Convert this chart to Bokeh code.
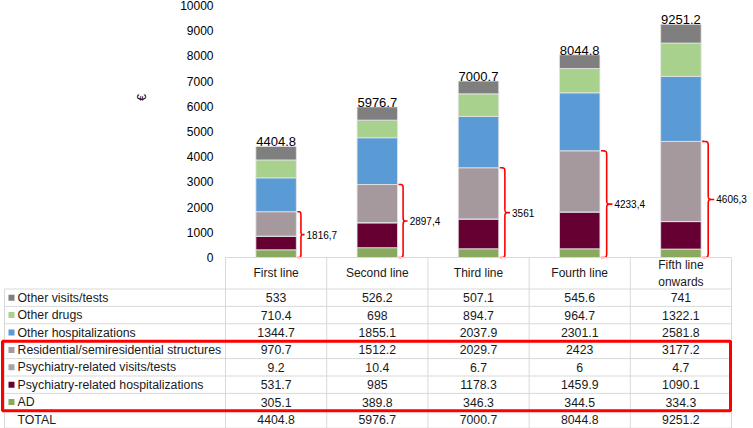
import numpy as np
from bokeh.plotting import figure
from bokeh.models import Range1d, LinearAxis, FixedTicker, ColumnDataSource, Grid
from bokeh.core.properties import value
from bokeh.embed import file_html
from bokeh.resources import INLINE

# ---------------- data ----------------
categories = ["First line", "Second line", "Third line", "Fourth line", "Fifth line\nonwards"]
ad = [305.1, 389.8, 346.3, 344.5, 334.3]
psych_hosp = [531.7, 985, 1178.3, 1459.9, 1090.1]
psych_visits = [9.2, 10.4, 6.7, 6, 4.7]
residential = [970.7, 1512.2, 2029.7, 2423, 3177.2]
other_hosp = [1344.7, 1855.1, 2037.9, 2301.1, 2581.8]
other_drugs = [710.4, 698, 894.7, 964.7, 1322.1]
other_visits = [533, 526.2, 507.1, 545.6, 741]
y_ticks = [0, 1000, 2000, 3000, 4000, 5000, 6000, 7000, 8000, 9000, 10000]

# stacking order bottom -> top
stack_keys = ["ad", "psych_hosp", "psych_visits", "residential", "other_hosp", "other_drugs", "other_visits"]
stack_names = ["AD", "Psychiatry-related hospitalizations", "Psychiatry-related visits/tests",
               "Residential/semiresidential structures", "Other hospitalizations", "Other drugs",
               "Other visits/tests"]
stack_colors = ["#88a95e", "#660033", "#a5a5a5", "#a6999d", "#5b9bd5", "#a9d18e", "#7f7f7f"]
stack_values = [ad, psych_hosp, psych_visits, residential, other_hosp, other_drugs, other_visits]

FONT = value("Liberation Sans")

# ---------------- geometry ----------------
W, H = 753, 428
PX = 101.2                 # px per category column
LEFT_PX = 225              # px where x = -0.5
x_start = -0.5 - LEFT_PX / PX
x_end = x_start + W / PX
PY = 252 / 10000           # px per euro
ZERO_PX = 257              # px (from top) of y = 0
y_top = ZERO_PX / PY
y_bot = -(H - ZERO_PX) / PY


def dx(px):
    return px / PX


def dy(px):
    return px / PY


HEADER = dy(31.5)
ROW = dy(17.4)

p = figure(width=W, height=H, x_range=Range1d(x_start, x_end), y_range=Range1d(y_bot, y_top),
           x_axis_location=None, y_axis_location=None, output_backend="svg",
           toolbar_location=None, min_border=0)
p.outline_line_color = None
p.background_fill_color = "white"
p.center = [r for r in p.center if not isinstance(r, Grid)]

# y axis placed at the left edge of the plotting area
yaxis = LinearAxis(ticker=FixedTicker(ticks=y_ticks), fixed_location=-0.5,
                   axis_line_color=None, major_tick_line_color=None, minor_tick_line_color=None,
                   major_tick_out=0, major_tick_in=0,
                   major_label_standoff=12, major_label_text_font="Liberation Sans",
                   major_label_text_font_size="12px", major_label_text_color="#000000")
p.add_layout(yaxis, "left")

# euro label
p.text(x=[x_start + dx(141)], y=[6350], text=["€"], angle=np.pi / 2, text_align="center",
       text_baseline="middle", text_font=FONT, text_font_size="12px", text_color="#000000")

# ---------------- bars ----------------
xs = list(range(len(categories)))
src = ColumnDataSource(dict(x=xs, **{k: v for k, v in zip(stack_keys, stack_values)}))
p.vbar_stack(stack_keys, x="x", width=0.4, source=src, fill_color=stack_colors,
             line_color="#e6e6e6", line_width=0.8)

totals = np.round(np.sum(np.array(stack_values, dtype=float), axis=0), 1)
p.text(x=xs, y=list(totals), text=[f"{t:g}" for t in totals], text_align="center",
       text_baseline="bottom", text_font=FONT, text_font_size="13px",
       text_color="#000000")

# ---------------- braces ----------------


def cubic(p0, p1, p2, p3, n=14):
    t = np.linspace(0, 1, n)[:, None]
    pts = ((1 - t) ** 3) * p0 + 3 * ((1 - t) ** 2) * t * p1 + 3 * (1 - t) * t ** 2 * p2 + t ** 3 * p3
    return pts


def fmt_comma(v):
    s = f"{v:.1f}"
    if s.endswith(".0"):
        s = s[:-2]
    return s.replace(".", ",")


brace_vals = np.round(np.array(ad) + np.array(psych_hosp) + np.array(psych_visits) + np.array(residential), 1)
bxs, bys, lx, ly, lt = [], [], [], [], []
for i, hv in enumerate(brace_vals):
    hp = hv * PY
    w = 4 + 0.07 * hp
    r = min(6.0, hp / 6)
    m = hp / 2
    A = np.array
    seg = [
        cubic(A([0, hp]), A([w / 2, hp]), A([w / 2, hp]), A([w / 2, hp - r])),
        cubic(A([w / 2, hp - r]), A([w / 2, m + r]), A([w / 2, m + r]), A([w / 2, m + r]), 2),
        cubic(A([w / 2, m + r]), A([w / 2, m]), A([w / 2, m]), A([w, m])),
        cubic(A([w, m]), A([w / 2, m]), A([w / 2, m]), A([w / 2, m - r])),
        cubic(A([w / 2, m - r]), A([w / 2, r]), A([w / 2, r]), A([w / 2, r]), 2),
        cubic(A([w / 2, r]), A([w / 2, 0]), A([w / 2, 0]), A([0, 0])),
    ]
    pts = np.vstack(seg)
    base = i + 0.2 + dx(1)
    bxs.append(list(base + pts[:, 0] / PX))
    bys.append(list(pts[:, 1] / PY))
    lx.append(base + dx(w + 2))
    ly.append(hv / 2)
    lt.append(fmt_comma(hv))

p.multi_line(xs=bxs, ys=bys, line_color="#ff0000", line_width=1.6)
p.text(x=lx, y=ly, text=lt, text_align="left", text_baseline="middle", text_font=FONT,
       text_font_size="10px", text_color="#000000")

# ---------------- table ----------------
table_left = x_start + dx(4)
table_right = len(categories) - 0.5
n_rows = 8
bottom = -HEADER - n_rows * ROW

sx0, sy0, sx1, sy1 = [], [], [], []
sx0.append(-0.5); sy0.append(0); sx1.append(table_right); sy1.append(0)
for k in range(n_rows + 1):
    yy = -HEADER - k * ROW
    sx0.append(table_left); sy0.append(yy); sx1.append(table_right); sy1.append(yy)
for j in range(len(categories) + 1):
    xx = -0.5 + j
    sx0.append(xx); sy0.append(0); sx1.append(xx); sy1.append(bottom)
sx0.append(table_left); sy0.append(-HEADER); sx1.append(table_left); sy1.append(bottom)
p.segment(x0=sx0, y0=sy0, x1=sx1, y1=sy1, line_color="#d9d9d9", line_width=1)

# header
p.text(x=xs, y=[-HEADER / 2] * len(xs), text=categories, text_align="center", text_baseline="middle",
       text_font=FONT, text_font_size="12px", text_color="#1a1a1a")

# rows (top -> bottom, reverse of stacking order) then TOTAL
row_names = stack_names[::-1] + ["TOTAL"]
row_colors = stack_colors[::-1]
row_values = stack_values[::-1] + [list(totals)]
row_centers = [-HEADER - (k + 0.5) * ROW for k in range(n_rows)]

p.scatter(x=[table_left + dx(7)] * len(row_colors), y=row_centers[:len(row_colors)], marker="square",
          size=6, fill_color=row_colors, line_color=None)
p.text(x=[table_left + dx(13)] * n_rows, y=row_centers, text=row_names, text_align="left",
       text_baseline="middle", text_font=FONT, text_font_size="12.3px", text_color="#1a1a1a")

cx, cy, ct = [], [], []
for k, vals in enumerate(row_values):
    for c, v in enumerate(vals):
        cx.append(c)
        cy.append(row_centers[k])
        ct.append(f"{v:g}")
p.text(x=cx, y=cy, text=ct, text_align="center", text_baseline="middle", text_font=FONT,
       text_font_size="12.3px", text_color="#1a1a1a")

# red highlight box around the psychiatry-related rows
p.quad(left=[x_start + dx(2)], right=[table_right - dx(1)], top=[-HEADER - 3 * ROW],
       bottom=[-HEADER - 7 * ROW], fill_color=None, line_color="#ff0000", line_width=3)

open("out.html", "w").write(file_html(p, INLINE))
